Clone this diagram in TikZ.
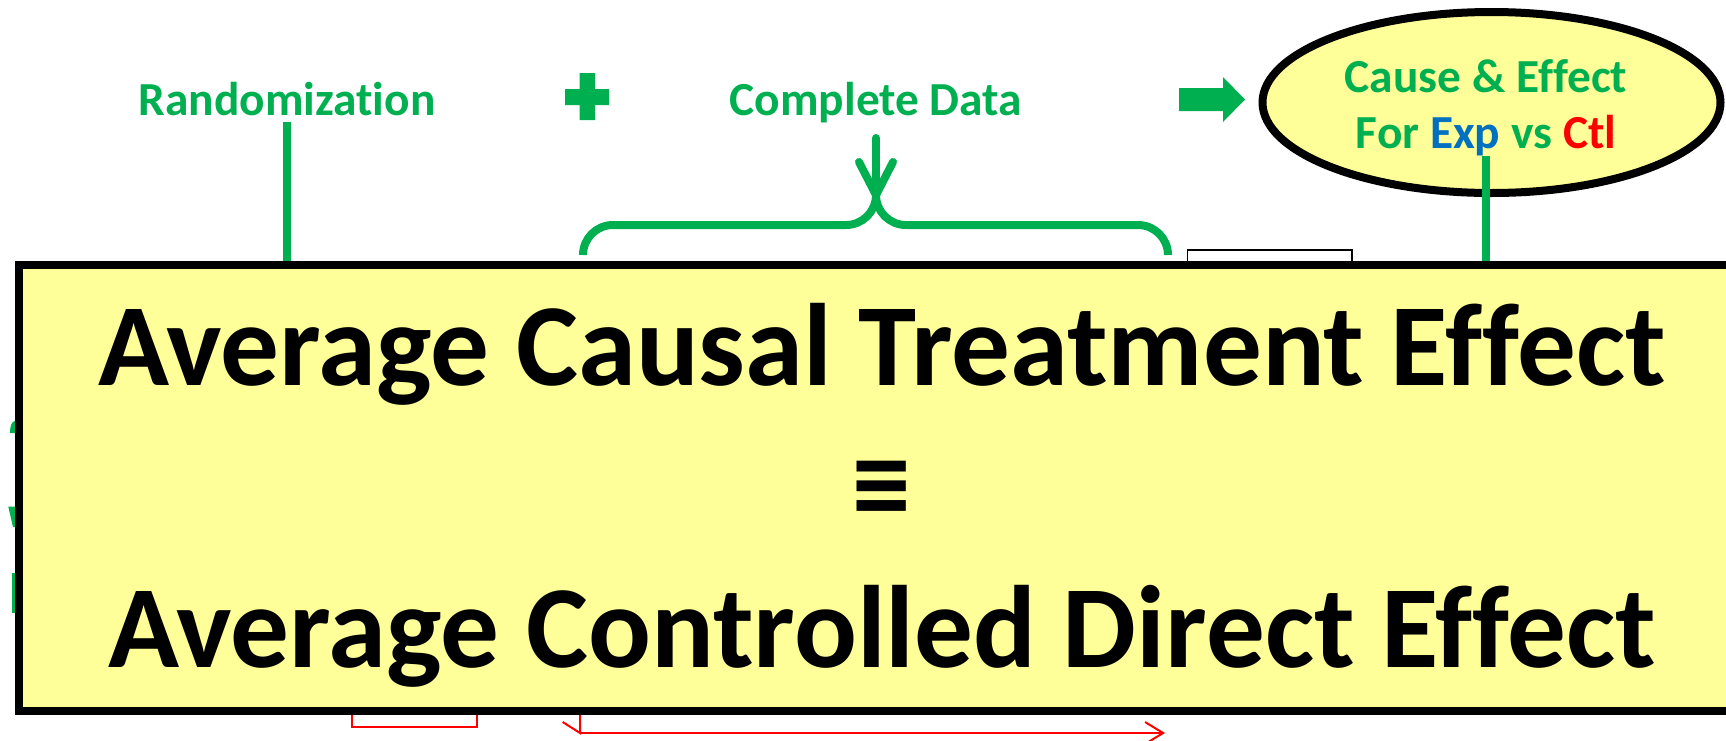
\documentclass[tikz,border=0pt]{standalone}
\usepackage{fontspec}
\setmainfont{Carlito}[Ligatures=NoCommon]
\usetikzlibrary{shapes.geometric,arrows.meta}
\definecolor{xgreen}{HTML}{00B050}
\definecolor{xblue}{HTML}{0070C0}
\definecolor{xred}{HTML}{FF0000}
\definecolor{xyellow}{HTML}{FFFF99}
\begin{document}
\begin{tikzpicture}[x=0.5pt,y=-0.5pt,
  lbl/.style={font=\bfseries\fontsize{23.7pt}{28pt}\selectfont, text=xgreen, inner sep=0pt},
  big/.style={font=\bfseries\fontsize{58.6pt}{70pt}\selectfont, inner sep=0pt},
  gline/.style={draw=xgreen, line width=4pt},
  brace/.style={draw=xgreen, line width=4pt, rounded corners=15pt},
  redln/.style={draw=xred, line width=1pt},
  bubble/.style={ellipse, draw=black, line width=4pt, fill=xyellow, inner sep=0pt,
                 minimum width=229pt, minimum height=90.5pt},
  panel/.style={rectangle, draw=black, line width=4pt, fill=xyellow, inner sep=0pt,
                minimum width=863.25pt, minimum height=222.75pt}]
\useasboundingbox (0,0) rectangle (1726,740);
\clip (0,0) rectangle (1726,740);

% top row labels
\node[lbl, anchor=base] (rand) at (287,115) {Randomization};
\node[lbl, anchor=base] (cd) at (876,115) {Complete Data};

% plus sign
\fill[xgreen] (579.5,73) -- (595,73) -- (595,89) -- (609,89) -- (609,105) -- (595,105)
  -- (595,120) -- (579.5,120) -- (579.5,105) -- (565,105) -- (565,89) -- (579.5,89) -- cycle;

% block arrow
\fill[xgreen] (1179,88) -- (1223,88) -- (1223,77) -- (1245,99.5) -- (1223,122)
  -- (1223,111) -- (1179,111) -- cycle;

% cause and effect bubble
\node[bubble] (ce) at (1491.5,102.5) {};
\node[lbl, anchor=base] (ce1) at (1486,92) {Cause \& Effect};
\node[lbl, anchor=base] (ce2) at (1486,148) {For \textcolor{xblue}{Exp} vs \textcolor{xred}{Ctl}};

% brace under Complete Data
\coordinate (bl) at (583,255);
\coordinate (bm) at (876,225);
\coordinate (bt) at (876,195);
\coordinate (br) at (1168,255);
\draw[brace] (bl) -- (bl |- bm) -- (bm) -- (bt);
\draw[brace] (bt) -- (bm) -- (br |- bm) -- (br);
\draw[gline, line cap=round] (cd.base) ++(0,23) -- (bt);
\draw[gline, line cap=round, line join=round] (bt) ++(-17,-33) -- (bt) -- ++(17,-33);

% small tab behind the panel
\draw[black, line width=0.7pt, fill=white] (1187.5,250) rectangle (1352,275);

% pieces peeking out at the left of the panel
\fill[xgreen] (15,420.7) .. controls (11.5,422) and (10,426) .. (10,433) -- (15,433) -- cycle;
\fill[xgreen] (8.3,506.7) -- (15,506.7) -- (15,527) -- (13,527) -- cycle;
\fill[xgreen] (11.7,573) rectangle (15,613);

% red pieces below the panel
\draw[redln] (352,700) rectangle (476.5,727);
\coordinate (ra) at (580,700);
\coordinate (rb) at (580,733);
\coordinate (rc) at (562.7,722);
\coordinate (rd) at (1165,733);
\draw[redln] (ra) -- (rb) -- (rc);
\draw[redln, -{Straight Barb[length=9pt,width=11pt]}] (rb) -- (rd);

% main panel
\node[panel] (ate) at (882,488.2) {};
\draw[gline] (rand.south) ++(0,6) -- (rand |- ate.north);
\draw[gline] (ce2.south) -- (ce2 |- ate.north);
\node[panel, fill=none] at (ate) {};

\node[big, anchor=base] (l1) at (882,385) {Average Causal Treatment Effect};
\node[big] (eq) at (882,492.5) {≡};
\node[big, anchor=base] (l3) at (882,667) {Average Controlled Direct Effect};
\end{tikzpicture}
\end{document}
